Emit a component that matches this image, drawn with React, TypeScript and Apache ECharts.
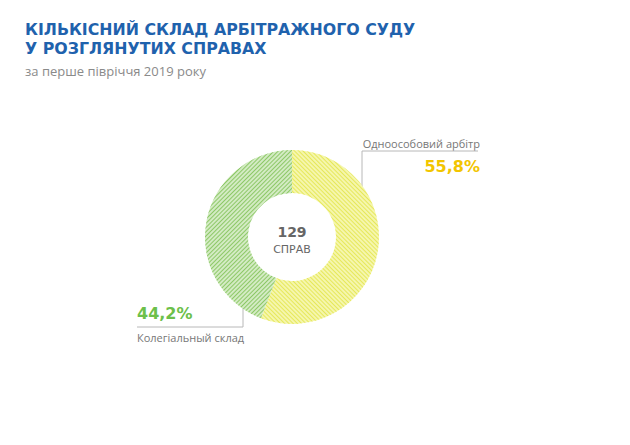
import React, { useEffect, useRef } from "react";
import * as echarts from "echarts";

const categories = ["Одноособовий арбітр", "Колегіальный склад"];
const caseCounts = [72, 57];
const totalCases = 129;
const percentLabels = ["55,8%", "44,2%"];

const titleLine1 = "КІЛЬКІСНИЙ СКЛАД АРБІТРАЖНОГО СУДУ";
const titleLine2 = "У РОЗГЛЯНУТИХ СПРАВАХ";
const subtitle = "за перше півріччя 2019 року";

export default function App() {
  const ref = useRef<HTMLDivElement>(null);
  useEffect(() => {
    if (!ref.current) return;
    const chart = echarts.init(ref.current, undefined, { renderer: "svg" });
    const lineColor = "#b8b8b8";
    chart.setOption({
      animation: false,
      backgroundColor: "#ffffff",
      series: [
        {
          type: "pie",
          center: [292, 237],
          radius: [44, 87],
          startAngle: 90,
          clockwise: true,
          label: { show: false },
          labelLine: { show: false },
          silent: true,
          data: [
            {
              name: categories[0],
              value: caseCounts[0],
              itemStyle: {
                color: "#f5f6ad",
                decal: {
                  symbol: "rect",
                  symbolSize: 1,
                  dashArrayX: [1, 0],
                  dashArrayY: [1, 2],
                  rotation: Math.PI / 4,
                  color: "#e6e85a",
                },
              },
            },
            {
              name: categories[1],
              value: caseCounts[1],
              itemStyle: {
                color: "#d3ebc3",
                decal: {
                  symbol: "rect",
                  symbolSize: 1,
                  dashArrayX: [1, 0],
                  dashArrayY: [1, 2],
                  rotation: -Math.PI / 4,
                  color: "#8dc867",
                },
              },
            },
          ],
        },
      ],
      graphic: [
        {
          type: "text",
          left: 25,
          top: 21,
          style: {
            text: titleLine1,
            fill: "#1f62ad",
            font: "bold 15.8px 'DejaVu Sans'",
          },
        },
        {
          type: "text",
          left: 25,
          top: 40,
          style: {
            text: titleLine2,
            fill: "#1f62ad",
            font: "bold 15.8px 'DejaVu Sans'",
          },
        },
        {
          type: "text",
          left: 25,
          top: 64,
          style: {
            text: subtitle,
            fill: "#8a8a8a",
            font: "13px 'Open Sans'",
          },
        },
        {
          type: "text",
          x: 292,
          y: 232,
          style: {
            text: String(totalCases),
            fill: "#666666",
            font: "bold 14px 'DejaVu Sans'",
            align: "center",
            verticalAlign: "middle",
          },
        },
        {
          type: "text",
          x: 292,
          y: 249,
          style: {
            text: "СПРАВ",
            fill: "#666666",
            font: "11px 'DejaVu Sans'",
            align: "center",
            verticalAlign: "middle",
          },
        },
        // right label
        {
          type: "text",
          x: 480,
          y: 143,
          style: {
            text: categories[0],
            fill: "#777777",
            font: "11px 'Open Sans'",
            align: "right",
            verticalAlign: "middle",
          },
        },
        {
          type: "polyline",
          shape: { points: [[478, 151], [362, 151], [362, 191]] },
          style: { stroke: lineColor, lineWidth: 1, fill: "none" },
        },
        {
          type: "circle",
          shape: { cx: 362, cy: 192, r: 1.8 },
          style: { stroke: lineColor, fill: "#fff", lineWidth: 1 },
        },
        {
          type: "text",
          x: 480,
          y: 166,
          style: {
            text: percentLabels[0],
            fill: "#f2c500",
            font: "bold 16px 'DejaVu Sans'",
            align: "right",
            verticalAlign: "middle",
          },
        },
        // left label
        {
          type: "text",
          x: 137,
          y: 313,
          style: {
            text: percentLabels[1],
            fill: "#6cc04a",
            font: "bold 16px 'DejaVu Sans'",
            align: "left",
            verticalAlign: "middle",
          },
        },
        {
          type: "polyline",
          shape: { points: [[137, 327], [243, 327], [243, 289]] },
          style: { stroke: lineColor, lineWidth: 1, fill: "none" },
        },
        {
          type: "circle",
          shape: { cx: 243, cy: 288, r: 1.8 },
          style: { stroke: lineColor, fill: "#fff", lineWidth: 1 },
        },
        {
          type: "text",
          x: 137,
          y: 337,
          style: {
            text: categories[1],
            fill: "#777777",
            font: "11px 'Open Sans'",
            align: "left",
            verticalAlign: "middle",
          },
        },
      ],
    });
    return () => chart.dispose();
  }, []);
  return (
    <div
      ref={ref}
      style={{ position: "fixed", left: 0, top: 0, width: 630, height: 445 }}
    />
  );
}
